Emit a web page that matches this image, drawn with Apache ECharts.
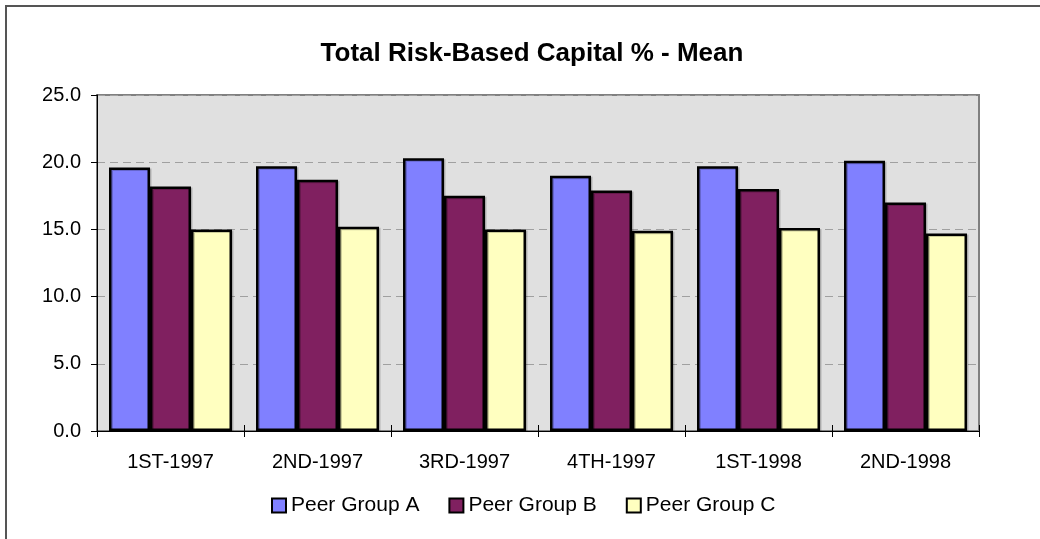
<!DOCTYPE html>
<html>
<head>
<meta charset="utf-8">
<script src="https://cdn.jsdelivr.net/npm/echarts@6/dist/echarts.min.js"></script>
<style>
  html, body { margin: 0; padding: 0; background: #ffffff; }
  #chart { width: 1040px; height: 539px; }
</style>
</head>
<body>
<div id="chart"></div>
<script>
const titleText = 'Total Risk-Based Capital % - Mean';
const categories = ['1ST-1997', '2ND-1997', '3RD-1997', '4TH-1997', '1ST-1998', '2ND-1998'];
const seriesNames = ['Peer Group A', 'Peer Group B', 'Peer Group C'];
const peerGroupA = [19.6, 19.7, 20.3, 19.0, 19.7, 20.1];
const peerGroupB = [18.2, 18.7, 17.5, 17.9, 18.0, 17.0];
const peerGroupC = [15.0, 15.2, 15.0, 14.9, 15.1, 14.7];
const yTicks = [0, 5, 10, 15, 20, 25];

const colors = ['#8080FF', '#802060', '#FFFFC0'];
const font = '"Liberation Sans", Arial, sans-serif';

const chart = echarts.init(document.getElementById('chart'), null, { renderer: 'canvas' });

function makeSeries(name, data, color) {
  return {
    name: name,
    type: 'bar',
    xAxisIndex: 0,
    data: data,
    barWidth: 41,
    barGap: '0%',
    itemStyle: {
      color: color,
      borderColor: '#000000',
      borderWidth: 2.5,
      shadowColor: 'rgba(0,0,0,0.2)',
      shadowOffsetX: 1.5,
      shadowOffsetY: 1,
      shadowBlur: 0
    },
    emphasis: { disabled: true },
    animation: false
  };
}

chart.setOption({
  animation: false,
  backgroundColor: '#ffffff',
  graphic: [{
    type: 'rect',
    shape: { x: 6, y: 6, width: 1200, height: 700 },
    style: { fill: 'none', stroke: '#555555', lineWidth: 2 },
    silent: true,
    z: 100
  }],
  title: {
    text: titleText,
    left: 527,
    top: 36,
    textAlign: 'center',
    textStyle: { fontFamily: font, fontWeight: 'bold', fontSize: 26, color: '#000000' }
  },
  legend: {
    data: seriesNames,
    left: 266,
    top: 490,
    itemWidth: 14,
    itemHeight: 14,
    itemGap: 29,
    icon: 'rect',
    textStyle: { fontFamily: font, fontSize: 21, color: '#000000' }
  },
  grid: {
    left: 97,
    right: 61,
    top: 95,
    bottom: 108,
    show: true,
    backgroundColor: '#E0E0E0',
    borderColor: '#808080',
    borderWidth: 2
  },
  xAxis: [{
    type: 'category',
    data: categories,
    boundaryGap: true,
    axisLine: { show: true, lineStyle: { color: '#000000', width: 1 } },
    axisTick: { show: true, length: 6, lineStyle: { color: '#000000' } },
    axisLabel: { fontFamily: font, fontSize: 20, color: '#000000', margin: 21 },
    splitLine: { show: false }
  }, {
    type: 'category',
    data: categories,
    position: 'bottom',
    boundaryGap: true,
    axisLine: { show: false },
    axisTick: { show: true, inside: true, length: 6, lineStyle: { color: '#000000' } },
    axisLabel: { show: false },
    splitLine: { show: false }
  }],
  yAxis: {
    type: 'value',
    min: yTicks[0],
    max: yTicks[yTicks.length - 1],
    interval: yTicks[1] - yTicks[0],
    axisLine: { show: true, lineStyle: { color: '#000000', width: 1 } },
    axisTick: { show: true, length: 6, lineStyle: { color: '#000000' } },
    axisLabel: {
      fontFamily: font, fontSize: 20, color: '#000000', margin: 16,
      formatter: function (v) { return v.toFixed(1); }
    },
    splitLine: { show: true, lineStyle: { color: '#A0A0A0', width: 1, type: [8, 5] } }
  },
  series: [
    makeSeries(seriesNames[0], peerGroupA, colors[0]),
    makeSeries(seriesNames[1], peerGroupB, colors[1]),
    makeSeries(seriesNames[2], peerGroupC, colors[2])
  ]
});
</script>
</body>
</html>
